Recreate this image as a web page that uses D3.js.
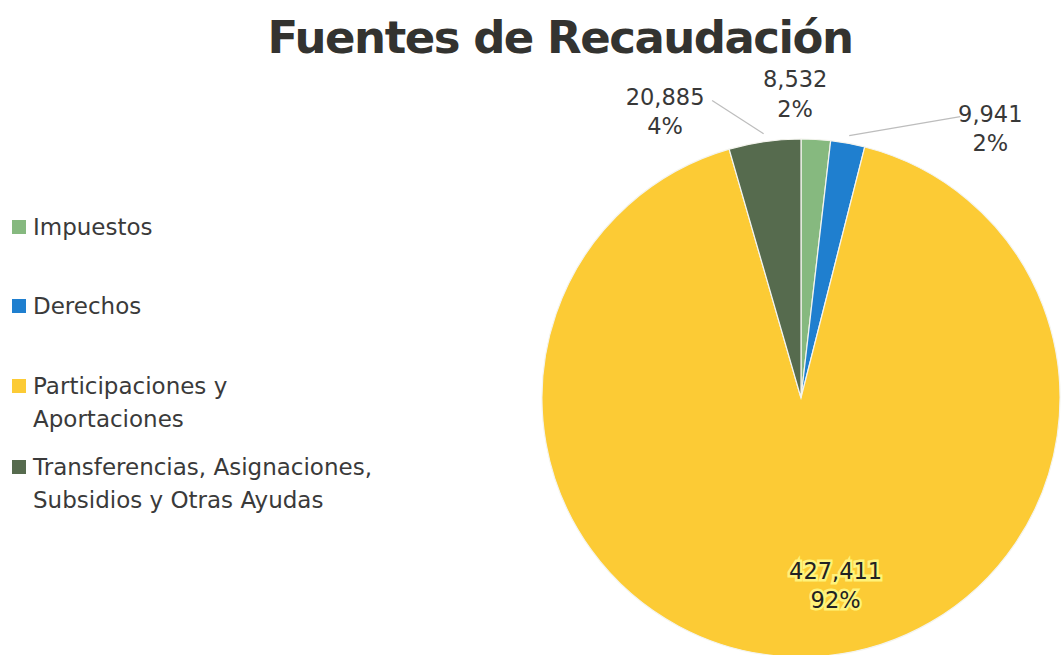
<!DOCTYPE html>
<html>
<head>
<meta charset="utf-8">
<script src="https://cdn.jsdelivr.net/npm/d3@7"></script>
<style>
  body { margin: 0; background: #fff; }
  svg { display: block; }
  text { font-family: "DejaVu Sans", Verdana, sans-serif; fill: #3a3a3a; }
</style>
</head>
<body>
<div id="pie_chart"></div>
<script>
// data
const categories = ["Impuestos", "Derechos", "Participaciones y Aportaciones",
  "Transferencias, Asignaciones, Subsidios y Otras Ayudas"];
const values = [8532, 9941, 427411, 20885];
const legendLines = [["Impuestos"], ["Derechos"], ["Participaciones y", "Aportaciones"],
  ["Transferencias, Asignaciones,", "Subsidios y Otras Ayudas"]];
const colors = ["#86b97f", "#1f7fcf", "#fccb35", "#566b4e"];
const title = "Fuentes de Recaudación";

// label placement (polar, degrees from 12 o'clock) per slice
const labelAngle = [-1.1, 35, 169.5, -25.3];
const labelRadius = [305, 330, 190, 318];

const width = 1061, height = 655;
const cx = 801, cy = 398, radius = 259;

const svg = d3.select("#pie_chart")
  .append("svg")
    .attr("width", width)
    .attr("height", height);

// title
svg.append("text")
  .attr("x", 560)
  .attr("y", 53)
  .attr("text-anchor", "middle")
  .style("font-size", "45px")
  .style("letter-spacing", "-1.5px")
  .style("font-weight", "bold")
  .style("fill", "#333330")
  .text(title);

const data = categories.map((c, i) => ({name: c, value: values[i], i: i}));
const total = d3.sum(values);

const pie = d3.pie().sort(null).value(d => d.value);
const arc = d3.arc().innerRadius(0).outerRadius(radius);
const arcs = pie(data);

const g = svg.append("g")
  .attr("transform", `translate(${cx}, ${cy})`);

g.selectAll("path")
  .data(arcs)
  .join("path")
    .attr("d", arc)
    .attr("fill", d => colors[d.data.i])
    .attr("stroke", "#f4f4ee")
    .attr("stroke-width", 1.2);

const fmt = d3.format(",");
const rad = a => a * Math.PI / 180;
const lx = i => labelRadius[i] * Math.sin(rad(labelAngle[i]));
const ly = i => -labelRadius[i] * Math.cos(rad(labelAngle[i]));

// leader lines for the outside labels
const edgeArc = d3.arc().innerRadius(radius * 1.03).outerRadius(radius * 1.03);
const leaderEnd = {1: [-30, -11], 3: [47, -10]};
g.selectAll("line.leader")
  .data(arcs.filter(d => leaderEnd[d.data.i]))
  .join("line")
    .attr("class", "leader")
    .attr("x1", d => edgeArc.centroid(d)[0])
    .attr("y1", d => edgeArc.centroid(d)[1])
    .attr("x2", d => lx(d.data.i) + leaderEnd[d.data.i][0])
    .attr("y2", d => ly(d.data.i) + leaderEnd[d.data.i][1])
    .attr("stroke", "#bdbdbd")
    .attr("stroke-width", 1.2);

// value + percent labels
const labels = g.selectAll("text.lbl")
  .data(arcs)
  .join("text")
    .attr("class", "lbl")
    .attr("text-anchor", "middle")
    .attr("transform", d => `translate(${lx(d.data.i)}, ${ly(d.data.i)})`)
    .style("font-size", "22.5px")
    .style("paint-order", "stroke")
    .style("stroke", d => d.data.i === 2 ? "#fff27a" : "none")
    .style("stroke-width", d => d.data.i === 2 ? 5 : 0)
    .style("fill", d => d.data.i === 2 ? "#222" : "#383838");
labels.append("tspan")
  .attr("x", 0).attr("dy", "-0.25em")
  .text(d => fmt(d.data.value));
labels.append("tspan")
  .attr("x", 0).attr("dy", "1.3em")
  .text(d => Math.round(d.data.value / total * 100) + "%");

// legend
const legendY = [227, 306, 386, 467];
const legend = svg.append("g");
const items = legend.selectAll("g")
  .data(categories)
  .join("g")
    .attr("transform", (d, i) => `translate(12, ${legendY[i]})`);
items.append("rect")
  .attr("x", 0).attr("y", -7)
  .attr("width", 14).attr("height", 14)
  .attr("fill", (d, i) => colors[i]);
items.append("text")
  .attr("x", 21)
  .attr("y", 8)
  .style("font-size", "23px")
  .selectAll("tspan")
  .data((d, i) => legendLines[i])
  .join("tspan")
    .attr("x", 21)
    .attr("dy", (d, j) => j === 0 ? 0 : 33)
    .text(d => d);
</script>
</body>
</html>
